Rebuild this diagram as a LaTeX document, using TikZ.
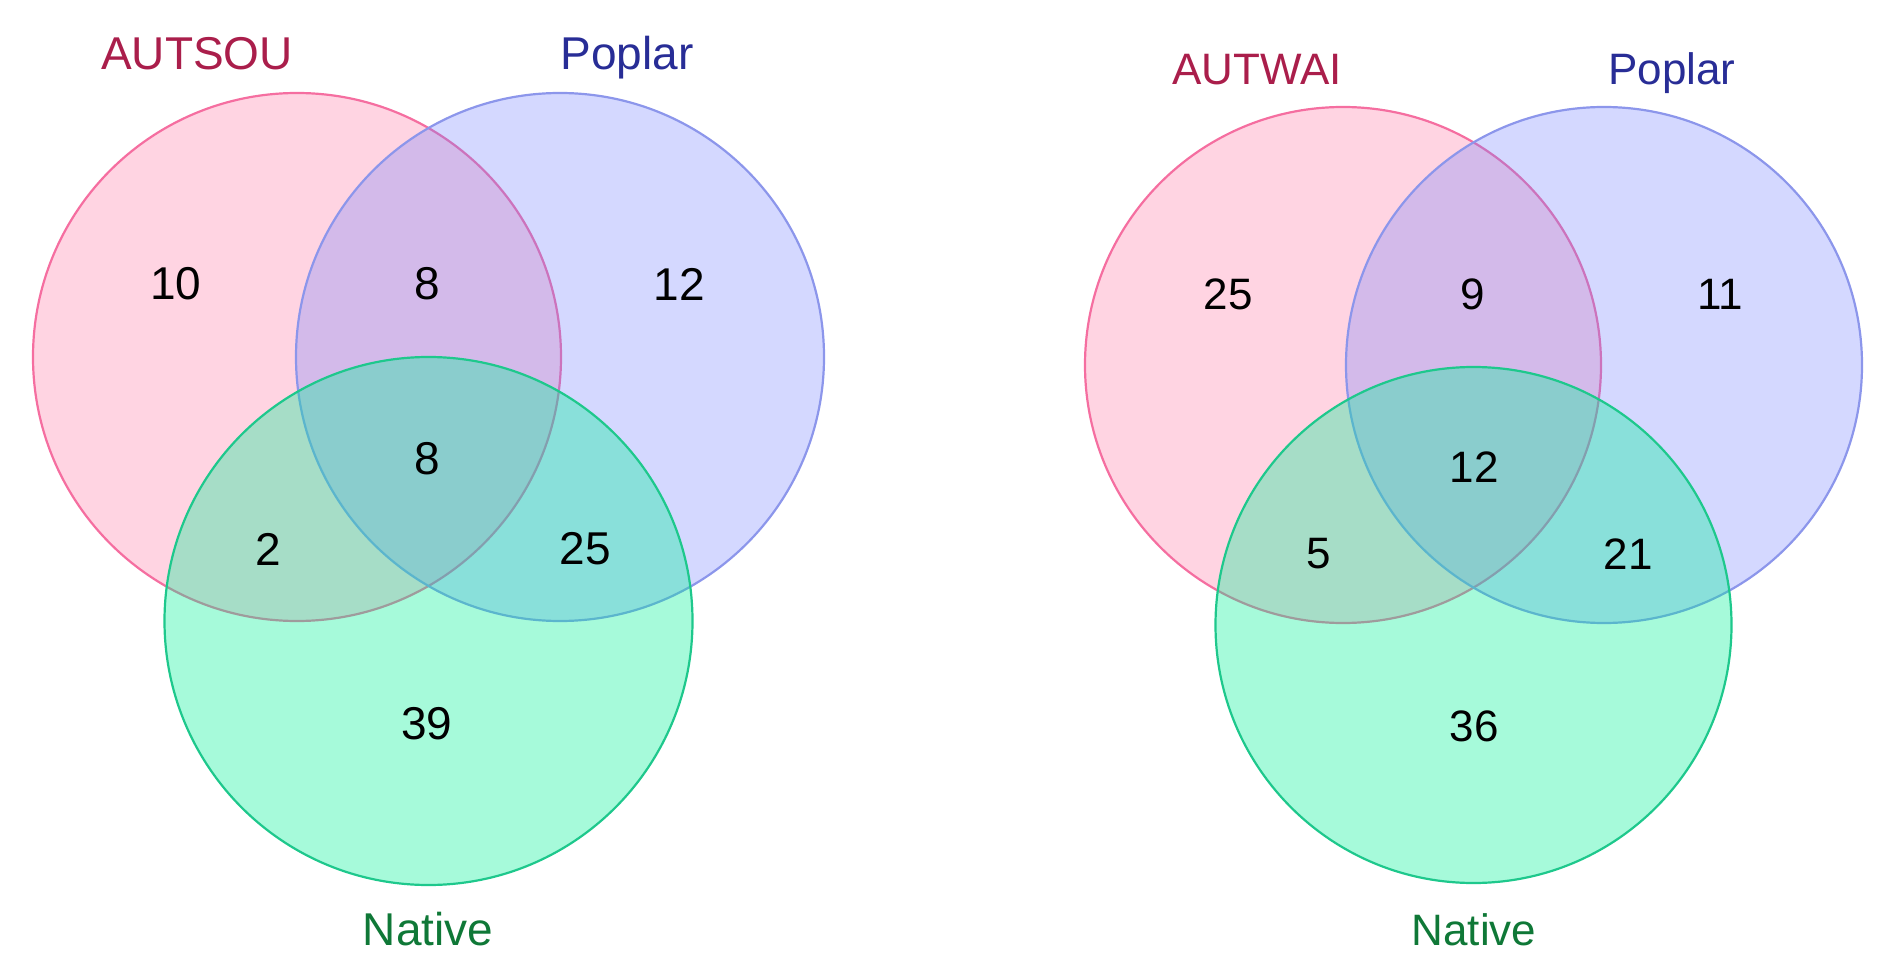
\documentclass[tikz,border=0pt]{standalone}
\usepackage{fontspec}
\setmainfont{Liberation Sans}

\definecolor{pinkset}{RGB}{255,111,160}
\definecolor{pinkline}{RGB}{245,110,160}
\definecolor{blueset}{RGB}{111,127,255}
\definecolor{blueline}{RGB}{140,150,235}
\definecolor{greenset}{RGB}{0,240,150}
\definecolor{greenline}{RGB}{30,200,140}
\definecolor{pinktext}{RGB}{170,30,75}
\definecolor{bluetext}{RGB}{40,45,150}
\definecolor{greentext}{RGB}{15,120,55}

\begin{document}
\begin{tikzpicture}[x=1pt, y=-1pt,
    setA/.style={line width=2.2pt, draw=pinkline, fill=pinkset, fill opacity=0.3},
    setP/.style={line width=2.2pt, draw=blueline, fill=blueset, fill opacity=0.3},
    setN/.style={line width=2.2pt, draw=greenline, fill=greenset, fill opacity=0.35},
    bigfont/.style={font=\fontsize{46}{50}\selectfont},
    smallfont/.style={font=\fontsize{44}{48}\selectfont},
    count/.style={inner sep=0pt, text=black}]
  \useasboundingbox (0,0) rectangle (1895,973);

  % First Venn Diagram
  \begin{scope}[shift={(297,357)}, bigfont]
    % Circle A
    \filldraw[setA] (0,0) circle[radius=264pt];
    % Circle P
    \filldraw[setP] (263,0) circle[radius=264pt];
    % Circle N
    \filldraw[setN] (131.5,264) circle[radius=264pt];

    % set names
    \node[anchor=base, text=pinktext] (labAL) at (-100,-287) {AUTSOU};
    \node[anchor=base, text=bluetext] (labPL) at (330,-287) {Poplar};
    \node[anchor=base, text=greentext] (labNL) at (131,588) {Native};

    % counts
    \node[count] (aL)   at (-121,-73) {10};
    \node[count] (apL)  at (130,-73)  {8};
    \node[count] (pL)   at (382,-73)  {12};
    \node[count] (apnL) at (130,102)  {8};
    \node[count] (anL)  at (-29,192)  {2};
    \node[count] (pnL)  at (288,192)  {25};
    \node[count] (nL)   at (130,367)  {39};
  \end{scope}

  % Second Venn Diagram
  \begin{scope}[shift={(1343,365)}, smallfont]
    % Circle A
    \filldraw[setA] (0,0) circle[radius=258pt];
    % Circle P
    \filldraw[setP] (261,0) circle[radius=258pt];
    % Circle N
    \filldraw[setN] (130.5,260) circle[radius=258pt];

    % set names
    \node[anchor=base, text=pinktext] (labAR) at (-86,-280) {AUTWAI};
    \node[anchor=base, text=bluetext] (labPR) at (329,-280) {Poplar};
    \node[anchor=base, text=greentext] (labNR) at (131,580) {Native};

    % counts
    \node[count] (aR)   at (-115,-71) {25};
    \node[count] (apR)  at (130,-71)  {9};
    \node[count] (pR)   at (377,-71)  {11};
    \node[count] (apnR) at (131,102)  {12};
    \node[count] (anR)  at (-24,189)  {5};
    \node[count] (pnR)  at (285,189)  {21};
    \node[count] (nR)   at (131,361)  {36};
  \end{scope}
\end{tikzpicture}
\end{document}
